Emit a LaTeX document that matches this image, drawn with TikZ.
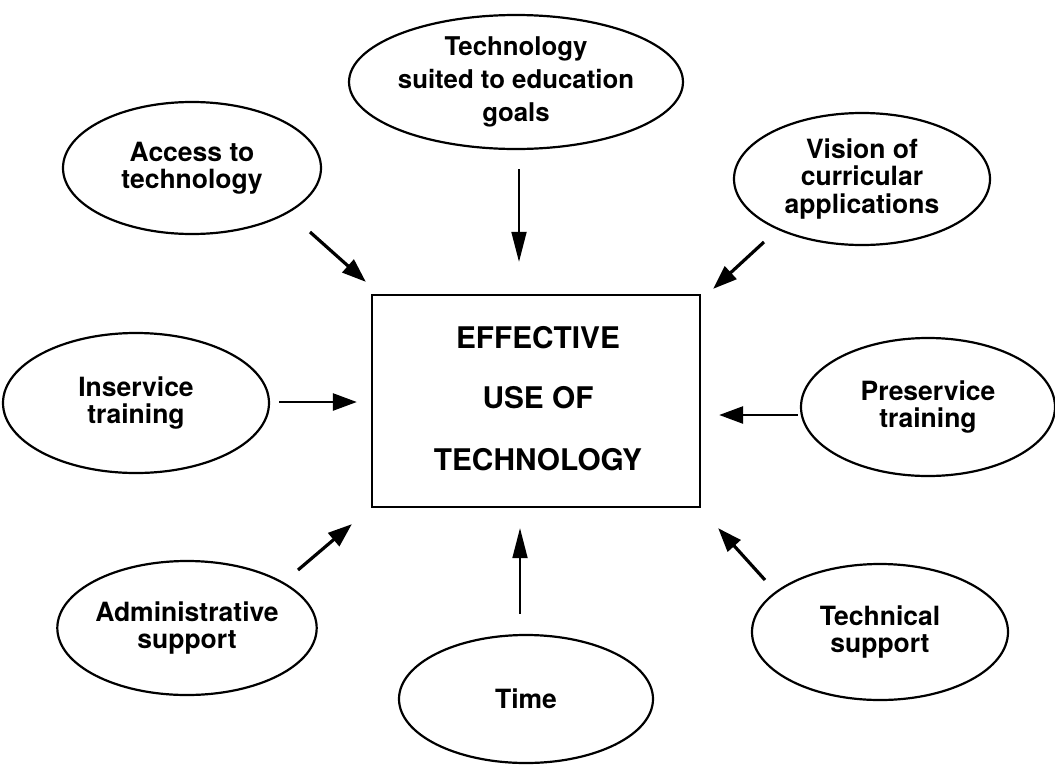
\documentclass[tikz,border=0pt]{standalone}
\usepackage{fontspec}
\setmainfont{TeX Gyre Heros}
\usetikzlibrary{shapes.geometric,arrows.meta,calc}
\begin{document}
\begin{tikzpicture}[x=1pt,y=-1pt,
  factor/.style={draw,ellipse,line width=2.2pt,inner sep=0pt,align=center,
    font=\bfseries\fontsize{26.5}{27.5}\selectfont},
  core/.style={draw,rectangle,line width=2.3pt,inner sep=0pt,
    minimum width=328pt,minimum height=212pt},
  arr/.style={line width=3.2pt,-{Triangle[length=24pt,width=17pt]}},
  thinarr/.style={line width=1.8pt,-{Triangle[length=30pt,width=15pt]}}]
\clip (0,0) rectangle (1055,766);
\fill[white] (0,0) rectangle (1055,766);

% central box
\node[core] (box) at (536,401) {};
\node[font=\bfseries\fontsize{29.8}{30}\selectfont] (l1) at (538,338) {EFFECTIVE};
\node[font=\bfseries\fontsize{29.8}{30}\selectfont] (l2) at (538,398) {USE OF};
\node[font=\bfseries\fontsize{29.8}{30}\selectfont] (l3) at (538,460) {TECHNOLOGY};

% surrounding factors
\node[factor,minimum width=256pt,minimum height=134pt,
  font=\bfseries\fontsize{25.8}{33}\selectfont] (goals) at (516,82)
  {Technology\\suited to education\\goals};
\node[factor,minimum width=258pt,minimum height=132pt] (access) at (192,168)
  {Access to\\technology};
\node[factor,minimum width=256pt,minimum height=132pt] (vision) at (862,179)
  {Vision of\\curricular\\applications};
\node[factor,minimum width=266pt,minimum height=140pt] (inserv) at (136,403)
  {Inservice\\training};
\node[factor,minimum width=254pt,minimum height=138pt] (preserv) at (928,407)
  {Preservice\\training};
\node[factor,minimum width=258pt,minimum height=134pt] (admin) at (187,628)
  {Administrative\\support};
\node[factor,minimum width=254pt,minimum height=128pt] (time) at (526,699)
  {Time};
\node[factor,minimum width=256pt,minimum height=136pt] (tech) at (880,632)
  {Technical\\support};

% influences on the central box
\draw[thinarr] ($(goals.south)+(3,19)$) -- ($(box.north)+(-17,-32)$);
\draw[arr] ($(access)+(118,64)$) -- ($(box.north west)+(-5,-12)$);
\draw[arr] ($(vision)+(-98,63)$) -- ($(box.north east)+(12,-5)$);
\draw[arr,line width=2.6pt] ($(inserv.east)+(9,-1)$) -- ($(box.west)+(-14,1)$);
\draw[arr,line width=2.6pt] ($(preserv.west)+(-2,8)$) -- ($(box.east)+(18,14)$);
\draw[arr] ($(admin)+(111,-58)$) -- ($(box.south west)+(-19,16)$);
\draw[thinarr] ($(time.north)+(-6,-20)$) -- ($(box.south)+(-16,20)$);
\draw[arr] ($(tech)+(-115,-52)$) -- ($(box.south east)+(17,20)$);
\end{tikzpicture}
\end{document}
